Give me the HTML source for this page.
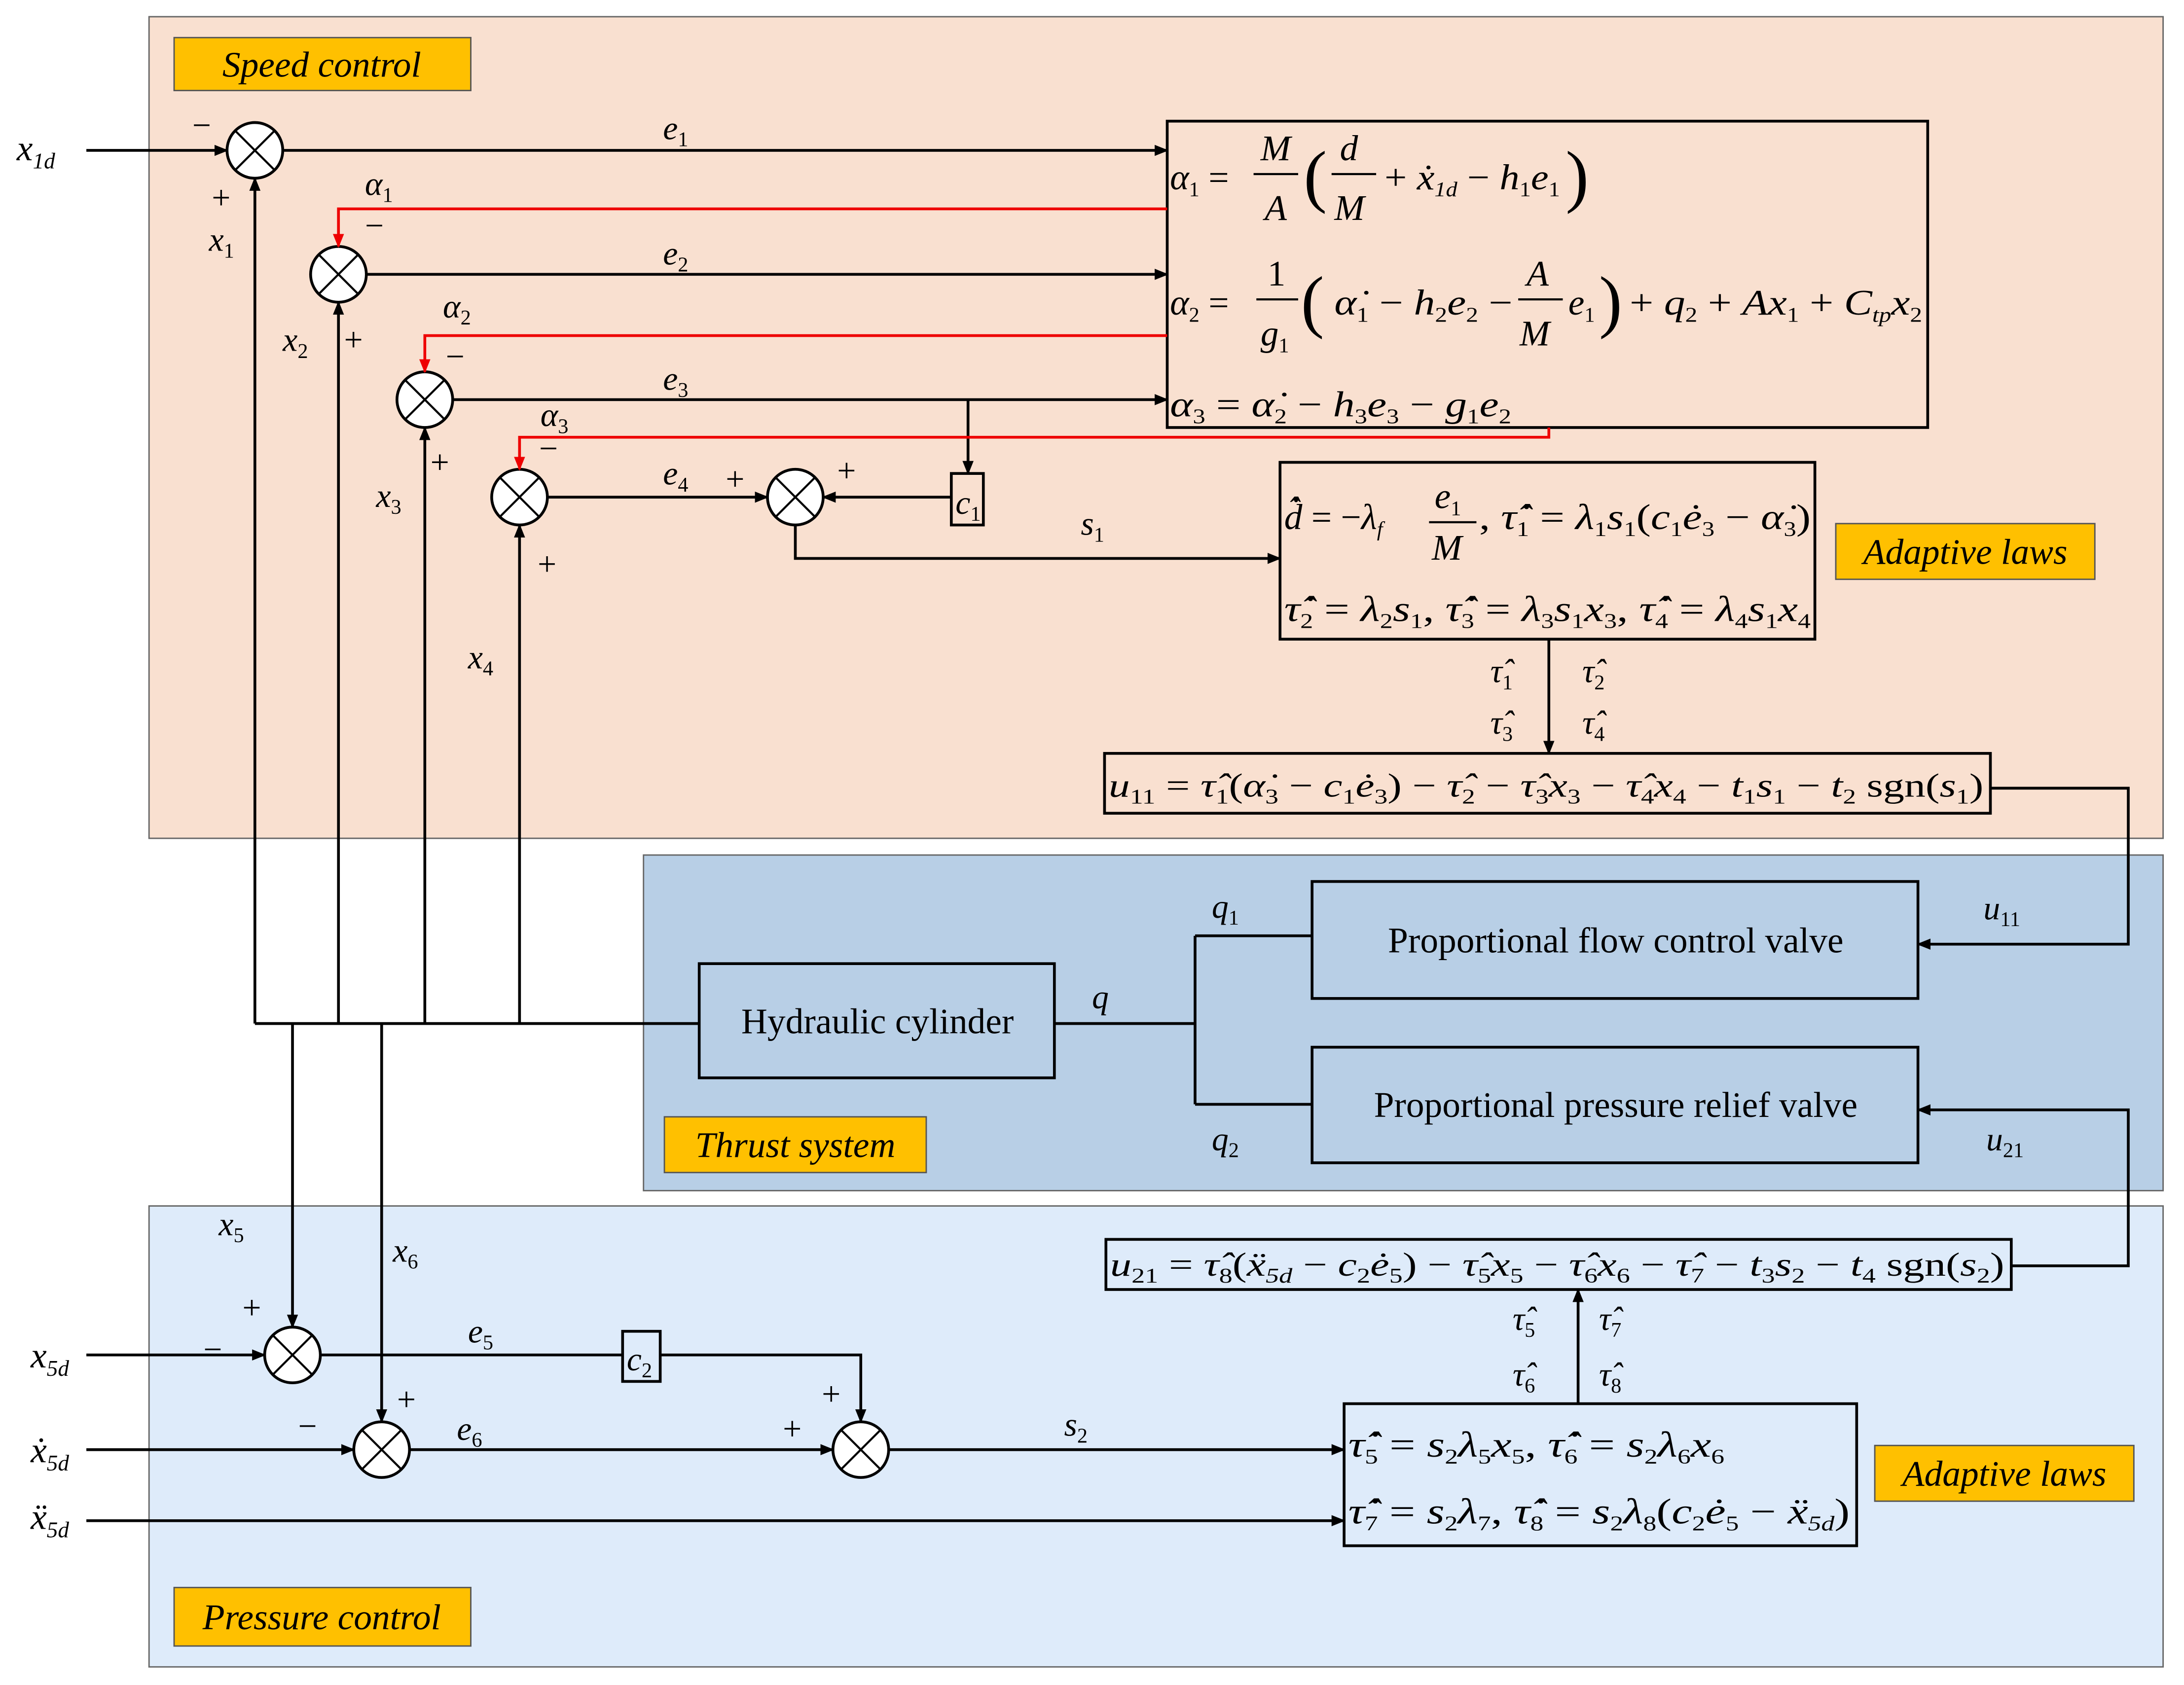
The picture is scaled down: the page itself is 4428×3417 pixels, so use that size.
<!DOCTYPE html>
<html><head><meta charset="utf-8"><style>
html,body{margin:0;padding:0;background:#fff}
svg{display:block}
text{font-family:"Liberation Serif",serif;font-size:24px;fill:#000}
.i{font-style:italic}
.lab{font-style:italic;font-size:26px}
</style></head><body>
<svg width="4428" height="3417" viewBox="0 0 1568 1210" xmlns="http://www.w3.org/2000/svg">
<defs>
<marker id="a" markerWidth="10" markerHeight="8" refX="9" refY="4" orient="auto" markerUnits="userSpaceOnUse"><path d="M0,0L10,4L0,8z" fill="#000"/></marker>
<marker id="r" markerWidth="10" markerHeight="8" refX="9" refY="4" orient="auto" markerUnits="userSpaceOnUse"><path d="M0,0L10,4L0,8z" fill="#e00"/></marker>
</defs>
<rect x="107" y="12" width="1446" height="590" fill="#f9e0d0" stroke="#666" stroke-width="1"/>
<rect x="462" y="614" width="1091" height="241" fill="#b8cfe6" stroke="#666" stroke-width="1"/>
<rect x="107" y="866" width="1446" height="331" fill="#deebfa" stroke="#666" stroke-width="1"/>
<g stroke="#555" stroke-width="1" fill="#ffc000">
<rect x="125" y="27" width="213" height="38"/>
<rect x="1318" y="376" width="186" height="40"/>
<rect x="477" y="802" width="188" height="40"/>
<rect x="1346" y="1038" width="186" height="40"/>
<rect x="125" y="1140" width="213" height="42"/>
</g>
<text class="lab" x="231" y="55" text-anchor="middle">Speed control</text>
<text class="lab" x="1411" y="405" text-anchor="middle">Adaptive laws</text>
<text class="lab" x="571" y="831" text-anchor="middle">Thrust system</text>
<text class="lab" x="1439" y="1067" text-anchor="middle">Adaptive laws</text>
<text class="lab" x="231" y="1170" text-anchor="middle">Pressure control</text>

<g fill="none" stroke="#000" stroke-width="2">
<rect x="838" y="87" width="546" height="220"/>
<rect x="919" y="332" width="384" height="127"/>
<rect x="793" y="541" width="636" height="43"/>
<rect x="502" y="692" width="255" height="82"/>
<rect x="942" y="633" width="435" height="84"/>
<rect x="942" y="752" width="435" height="83"/>
<rect x="794" y="890" width="650" height="36"/>
<rect x="965" y="1008" width="368" height="102"/>
<rect x="683" y="340" width="23" height="37"/>
<rect x="447" y="956" width="27" height="36"/>
</g>
<text x="1160" y="684" text-anchor="middle" style="font-size:26px">Proportional flow control valve</text>
<text x="1160" y="802" text-anchor="middle" style="font-size:26px">Proportional pressure relief valve</text>
<text x="630" y="742" text-anchor="middle" style="font-size:26px">Hydraulic cylinder</text>
<text class="i" x="686" y="369">c<tspan style="font-size:15px;font-style:normal" dy="5">1</tspan></text>
<text class="i" x="450" y="984">c<tspan style="font-size:15px;font-style:normal" dy="5">2</tspan></text>

<g fill="#fff" stroke="#000" stroke-width="2">
<circle cx="183" cy="108" r="20"/><circle cx="243" cy="197" r="20"/><circle cx="305" cy="287" r="20"/>
<circle cx="373" cy="357" r="20"/><circle cx="571" cy="357" r="20"/><circle cx="210" cy="973" r="20"/>
<circle cx="274" cy="1041" r="20"/><circle cx="618" cy="1041" r="20"/>
</g>
<g stroke="#000" stroke-width="1.5">
<path d="M169,94l28,28M197,94l-28,28M229,183l28,28M257,183l-28,28M291,273l28,28M319,273l-28,28M359,343l28,28M387,343l-28,28M557,343l28,28M585,343l-28,28M196,959l28,28M224,959l-28,28M260,1027l28,28M288,1027l-28,28M604,1027l28,28M632,1027l-28,28"/>
</g>

<g fill="none" stroke="#000" stroke-width="2">
<path d="M62,108H163" marker-end="url(#a)"/>
<path d="M203,108H838" marker-end="url(#a)"/>
<path d="M263,197H838" marker-end="url(#a)"/>
<path d="M325,287H838" marker-end="url(#a)"/>
<path d="M695,287V340" marker-end="url(#a)"/>
<path d="M393,357H551" marker-end="url(#a)"/>
<path d="M683,357H591" marker-end="url(#a)"/>
<path d="M571,377V401H919" marker-end="url(#a)"/>
<path d="M1112,459V541" marker-end="url(#a)"/>
<path d="M1429,566H1528V678H1377" marker-end="url(#a)"/>
<path d="M183,735V128" marker-end="url(#a)"/>
<path d="M243,735V217" marker-end="url(#a)"/>
<path d="M305,735V307" marker-end="url(#a)"/>
<path d="M373,735V377" marker-end="url(#a)"/>
<path d="M183,735H502"/>
<path d="M757,735H858M858,672V793M858,672H942M858,793H942"/>
<path d="M210,735V953" marker-end="url(#a)"/>
<path d="M274,735V1021" marker-end="url(#a)"/>
<path d="M62,973H190" marker-end="url(#a)"/>
<path d="M230,973H447M474,973H618V1021" marker-end="url(#a)"/>
<path d="M62,1041H254" marker-end="url(#a)"/>
<path d="M294,1041H598" marker-end="url(#a)"/>
<path d="M638,1041H965" marker-end="url(#a)"/>
<path d="M62,1092H965" marker-end="url(#a)"/>
<path d="M1133,1008V926" marker-end="url(#a)"/>
<path d="M1444,909H1528V797H1377" marker-end="url(#a)"/>
</g>
<g fill="none" stroke="#e00" stroke-width="2">
<path d="M838,150H243V177" marker-end="url(#r)"/>
<path d="M838,241H305V267" marker-end="url(#r)"/>
<path d="M1112,307V314H373V337" marker-end="url(#r)"/>
</g>

<g class="i">
<text x="12" y="115" style="font-size:26px">x<tspan style="font-size:16px" dy="6">1d</tspan></text>
<text x="22" y="982" style="font-size:26px">x<tspan style="font-size:16px" dy="6">5d</tspan></text>
<text x="22" y="1050" style="font-size:26px">ẋ<tspan style="font-size:16px" dy="6">5d</tspan></text>
<text x="22" y="1098" style="font-size:26px">ẍ<tspan style="font-size:16px" dy="6">5d</tspan></text>
<text x="476" y="100">e<tspan style="font-size:15px;font-style:normal" dy="5">1</tspan></text>
<text x="476" y="190">e<tspan style="font-size:15px;font-style:normal" dy="5">2</tspan></text>
<text x="476" y="280">e<tspan style="font-size:15px;font-style:normal" dy="5">3</tspan></text>
<text x="476" y="348">e<tspan style="font-size:15px;font-style:normal" dy="5">4</tspan></text>
<text x="336" y="964">e<tspan style="font-size:15px;font-style:normal" dy="5">5</tspan></text>
<text x="328" y="1034">e<tspan style="font-size:15px;font-style:normal" dy="5">6</tspan></text>
<text x="776" y="384">s<tspan style="font-size:15px;font-style:normal" dy="5">1</tspan></text>
<text x="764" y="1031">s<tspan style="font-size:15px;font-style:normal" dy="5">2</tspan></text>
<text x="262" y="140">α<tspan style="font-size:15px;font-style:normal" dy="5">1</tspan></text>
<text x="318" y="228">α<tspan style="font-size:15px;font-style:normal" dy="5">2</tspan></text>
<text x="388" y="306">α<tspan style="font-size:15px;font-style:normal" dy="5">3</tspan></text>
<text x="150" y="180">x<tspan style="font-size:15px;font-style:normal" dy="5">1</tspan></text>
<text x="203" y="252">x<tspan style="font-size:15px;font-style:normal" dy="5">2</tspan></text>
<text x="270" y="364">x<tspan style="font-size:15px;font-style:normal" dy="5">3</tspan></text>
<text x="336" y="480">x<tspan style="font-size:15px;font-style:normal" dy="5">4</tspan></text>
<text x="157" y="887">x<tspan style="font-size:15px;font-style:normal" dy="5">5</tspan></text>
<text x="282" y="906">x<tspan style="font-size:15px;font-style:normal" dy="5">6</tspan></text>
<text x="784" y="724">q</text>
<text x="870" y="659">q<tspan style="font-size:15px;font-style:normal" dy="5">1</tspan></text>
<text x="870" y="826">q<tspan style="font-size:15px;font-style:normal" dy="5">2</tspan></text>
<text x="1424" y="660">u<tspan style="font-size:15px;font-style:normal" dy="5">11</tspan></text>
<text x="1426" y="826">u<tspan style="font-size:15px;font-style:normal" dy="5">21</tspan></text>
<text x="1070" y="490">τ̂<tspan style="font-size:15px;font-style:normal" dy="5">1</tspan></text>
<text x="1070" y="527">τ̂<tspan style="font-size:15px;font-style:normal" dy="5">3</tspan></text>
<text x="1136" y="490">τ̂<tspan style="font-size:15px;font-style:normal" dy="5">2</tspan></text>
<text x="1136" y="527">τ̂<tspan style="font-size:15px;font-style:normal" dy="5">4</tspan></text>
<text x="1086" y="955">τ̂<tspan style="font-size:15px;font-style:normal" dy="5">5</tspan></text>
<text x="1086" y="995">τ̂<tspan style="font-size:15px;font-style:normal" dy="5">6</tspan></text>
<text x="1148" y="955">τ̂<tspan style="font-size:15px;font-style:normal" dy="5">7</tspan></text>
<text x="1148" y="995">τ̂<tspan style="font-size:15px;font-style:normal" dy="5">8</tspan></text>
</g>
<g style="font-size:24px">
<text x="138" y="98">−</text><text x="152" y="150">+</text>
<text x="262" y="170">−</text><text x="247" y="252">+</text>
<text x="320" y="264">−</text><text x="309" y="340">+</text>
<text x="387" y="330">−</text><text x="386" y="413">+</text>
<text x="521" y="352">+</text><text x="601" y="346">+</text>
<text x="174" y="947">+</text><text x="146" y="977">−</text>
<text x="285" y="1013">+</text><text x="214" y="1032">−</text>
<text x="590" y="1009">+</text><text x="562" y="1034">+</text>
</g>

<g style="font-size:26px">
<text x="840" y="136" style="font-size:26px"><tspan class="i">α</tspan><tspan style="font-size:15px" dy="5">1</tspan><tspan dy="-5"> =</tspan></text>
<text class="i" x="905" y="115" style="font-size:26px">M</text><line x1="900" y1="125" x2="932" y2="125" stroke="#000" stroke-width="1.5"/><text class="i" x="908" y="158" style="font-size:26px">A</text>
<text x="936" y="143" style="font-size:50px">(</text>
<text class="i" x="962" y="115" style="font-size:26px">d</text><line x1="956" y1="125" x2="988" y2="125" stroke="#000" stroke-width="1.5"/><text class="i" x="958" y="158" style="font-size:26px">M</text>
<text x="994" y="136" style="font-size:26px" textLength="126" lengthAdjust="spacingAndGlyphs">+ <tspan class="i">ẋ</tspan><tspan class="i" style="font-size:15px" dy="5">1d</tspan><tspan dy="-5"> − </tspan><tspan class="i">h</tspan><tspan style="font-size:15px" dy="5">1</tspan><tspan class="i" dy="-5">e</tspan><tspan style="font-size:15px" dy="5">1</tspan></text>
<text x="1124" y="143" style="font-size:50px">)</text>

<text x="840" y="226" style="font-size:26px"><tspan class="i">α</tspan><tspan style="font-size:15px" dy="5">2</tspan><tspan dy="-5"> =</tspan></text>
<text x="910" y="205" style="font-size:26px">1</text><line x1="902" y1="215" x2="932" y2="215" stroke="#000" stroke-width="1.5"/><text class="i" x="905" y="248" style="font-size:26px">g<tspan style="font-size:15px;font-style:normal" dy="5">1</tspan></text>
<text x="934" y="233" style="font-size:50px">(</text>
<text x="958" y="226" style="font-size:26px" textLength="128" lengthAdjust="spacingAndGlyphs"><tspan class="i">α̇</tspan><tspan style="font-size:15px" dy="5">1</tspan><tspan dy="-5"> − </tspan><tspan class="i">h</tspan><tspan style="font-size:15px" dy="5">2</tspan><tspan class="i" dy="-5">e</tspan><tspan style="font-size:15px" dy="5">2</tspan><tspan dy="-5"> −</tspan></text>
<text class="i" x="1096" y="205" style="font-size:26px">A</text><line x1="1090" y1="215" x2="1122" y2="215" stroke="#000" stroke-width="1.5"/><text class="i" x="1091" y="248" style="font-size:26px">M</text>
<text class="i" x="1126" y="226" style="font-size:26px">e<tspan style="font-size:15px;font-style:normal" dy="5">1</tspan></text>
<text x="1148" y="233" style="font-size:50px">)</text>
<text x="1170" y="226" style="font-size:26px" textLength="210" lengthAdjust="spacingAndGlyphs">+ <tspan class="i">q</tspan><tspan style="font-size:15px" dy="5">2</tspan><tspan dy="-5"> + </tspan><tspan class="i">Ax</tspan><tspan style="font-size:15px" dy="5">1</tspan><tspan dy="-5"> + </tspan><tspan class="i">C</tspan><tspan class="i" style="font-size:15px" dy="5">tp</tspan><tspan class="i" dy="-5">x</tspan><tspan style="font-size:15px" dy="5">2</tspan></text>

<text x="840" y="299" style="font-size:26px" textLength="245" lengthAdjust="spacingAndGlyphs"><tspan class="i">α</tspan><tspan style="font-size:15px" dy="5">3</tspan><tspan dy="-5"> = </tspan><tspan class="i">α̇</tspan><tspan style="font-size:15px" dy="5">2</tspan><tspan dy="-5"> − </tspan><tspan class="i">h</tspan><tspan style="font-size:15px" dy="5">3</tspan><tspan class="i" dy="-5">e</tspan><tspan style="font-size:15px" dy="5">3</tspan><tspan dy="-5"> − </tspan><tspan class="i">g</tspan><tspan style="font-size:15px" dy="5">1</tspan><tspan class="i" dy="-5">e</tspan><tspan style="font-size:15px" dy="5">2</tspan></text>

<text x="922" y="380" style="font-size:26px"><tspan class="i">d̂̇</tspan> = −<tspan class="i">λ</tspan><tspan class="i" style="font-size:15px" dy="5">f</tspan></text>
<text class="i" x="1030" y="365" style="font-size:26px">e<tspan style="font-size:15px;font-style:normal" dy="5">1</tspan></text><line x1="1026" y1="375" x2="1060" y2="375" stroke="#000" stroke-width="1.5"/><text class="i" x="1028" y="402" style="font-size:26px">M</text>
<text x="1062" y="380" style="font-size:26px" textLength="238" lengthAdjust="spacingAndGlyphs">, <tspan class="i">τ̂̇</tspan><tspan style="font-size:15px" dy="5">1</tspan><tspan dy="-5"> = </tspan><tspan class="i">λ</tspan><tspan style="font-size:15px" dy="5">1</tspan><tspan class="i" dy="-5">s</tspan><tspan style="font-size:15px" dy="5">1</tspan><tspan dy="-5">(</tspan><tspan class="i">c</tspan><tspan style="font-size:15px" dy="5">1</tspan><tspan class="i" dy="-5">ė</tspan><tspan style="font-size:15px" dy="5">3</tspan><tspan dy="-5"> − </tspan><tspan class="i">α̇</tspan><tspan style="font-size:15px" dy="5">3</tspan><tspan dy="-5">)</tspan></text>
<text x="922" y="446" style="font-size:26px" textLength="378" lengthAdjust="spacingAndGlyphs"><tspan class="i">τ̂̇</tspan><tspan style="font-size:15px" dy="5">2</tspan><tspan dy="-5"> = </tspan><tspan class="i">λ</tspan><tspan style="font-size:15px" dy="5">2</tspan><tspan class="i" dy="-5">s</tspan><tspan style="font-size:15px" dy="5">1</tspan><tspan dy="-5">, </tspan><tspan class="i">τ̂̇</tspan><tspan style="font-size:15px" dy="5">3</tspan><tspan dy="-5"> = </tspan><tspan class="i">λ</tspan><tspan style="font-size:15px" dy="5">3</tspan><tspan class="i" dy="-5">s</tspan><tspan style="font-size:15px" dy="5">1</tspan><tspan class="i" dy="-5">x</tspan><tspan style="font-size:15px" dy="5">3</tspan><tspan dy="-5">, </tspan><tspan class="i">τ̂̇</tspan><tspan style="font-size:15px" dy="5">4</tspan><tspan dy="-5"> = </tspan><tspan class="i">λ</tspan><tspan style="font-size:15px" dy="5">4</tspan><tspan class="i" dy="-5">s</tspan><tspan style="font-size:15px" dy="5">1</tspan><tspan class="i" dy="-5">x</tspan><tspan style="font-size:15px" dy="5">4</tspan></text>

<text x="796" y="572" textLength="628" lengthAdjust="spacingAndGlyphs"><tspan class="i">u</tspan><tspan style="font-size:15px" dy="5">11</tspan><tspan dy="-5"> = </tspan><tspan class="i">τ̂</tspan><tspan style="font-size:15px" dy="5">1</tspan><tspan dy="-5">(</tspan><tspan class="i">α̇</tspan><tspan style="font-size:15px" dy="5">3</tspan><tspan dy="-5"> − </tspan><tspan class="i">c</tspan><tspan style="font-size:15px" dy="5">1</tspan><tspan class="i" dy="-5">ė</tspan><tspan style="font-size:15px" dy="5">3</tspan><tspan dy="-5">) − </tspan><tspan class="i">τ̂</tspan><tspan style="font-size:15px" dy="5">2</tspan><tspan dy="-5"> − </tspan><tspan class="i">τ̂</tspan><tspan style="font-size:15px" dy="5">3</tspan><tspan class="i" dy="-5">x</tspan><tspan style="font-size:15px" dy="5">3</tspan><tspan dy="-5"> − </tspan><tspan class="i">τ̂</tspan><tspan style="font-size:15px" dy="5">4</tspan><tspan class="i" dy="-5">x</tspan><tspan style="font-size:15px" dy="5">4</tspan><tspan dy="-5"> − </tspan><tspan class="i">t</tspan><tspan style="font-size:15px" dy="5">1</tspan><tspan class="i" dy="-5">s</tspan><tspan style="font-size:15px" dy="5">1</tspan><tspan dy="-5"> − </tspan><tspan class="i">t</tspan><tspan style="font-size:15px" dy="5">2</tspan><tspan dy="-5"> sgn(</tspan><tspan class="i">s</tspan><tspan style="font-size:15px" dy="5">1</tspan><tspan dy="-5">)</tspan></text>

<text x="797" y="916" textLength="642" lengthAdjust="spacingAndGlyphs"><tspan class="i">u</tspan><tspan style="font-size:15px" dy="5">21</tspan><tspan dy="-5"> = </tspan><tspan class="i">τ̂</tspan><tspan style="font-size:15px" dy="5">8</tspan><tspan dy="-5">(</tspan><tspan class="i">ẍ</tspan><tspan class="i" style="font-size:15px" dy="5">5d</tspan><tspan dy="-5"> − </tspan><tspan class="i">c</tspan><tspan style="font-size:15px" dy="5">2</tspan><tspan class="i" dy="-5">ė</tspan><tspan style="font-size:15px" dy="5">5</tspan><tspan dy="-5">) − </tspan><tspan class="i">τ̂</tspan><tspan style="font-size:15px" dy="5">5</tspan><tspan class="i" dy="-5">x</tspan><tspan style="font-size:15px" dy="5">5</tspan><tspan dy="-5"> − </tspan><tspan class="i">τ̂</tspan><tspan style="font-size:15px" dy="5">6</tspan><tspan class="i" dy="-5">x</tspan><tspan style="font-size:15px" dy="5">6</tspan><tspan dy="-5"> − </tspan><tspan class="i">τ̂</tspan><tspan style="font-size:15px" dy="5">7</tspan><tspan dy="-5"> − </tspan><tspan class="i">t</tspan><tspan style="font-size:15px" dy="5">3</tspan><tspan class="i" dy="-5">s</tspan><tspan style="font-size:15px" dy="5">2</tspan><tspan dy="-5"> − </tspan><tspan class="i">t</tspan><tspan style="font-size:15px" dy="5">4</tspan><tspan dy="-5"> sgn(</tspan><tspan class="i">s</tspan><tspan style="font-size:15px" dy="5">2</tspan><tspan dy="-5">)</tspan></text>

<text x="968" y="1046" style="font-size:26px" textLength="270" lengthAdjust="spacingAndGlyphs"><tspan class="i">τ̂̇</tspan><tspan style="font-size:15px" dy="5">5</tspan><tspan dy="-5"> = </tspan><tspan class="i">s</tspan><tspan style="font-size:15px" dy="5">2</tspan><tspan class="i" dy="-5">λ</tspan><tspan style="font-size:15px" dy="5">5</tspan><tspan class="i" dy="-5">x</tspan><tspan style="font-size:15px" dy="5">5</tspan><tspan dy="-5">, </tspan><tspan class="i">τ̂̇</tspan><tspan style="font-size:15px" dy="5">6</tspan><tspan dy="-5"> = </tspan><tspan class="i">s</tspan><tspan style="font-size:15px" dy="5">2</tspan><tspan class="i" dy="-5">λ</tspan><tspan style="font-size:15px" dy="5">6</tspan><tspan class="i" dy="-5">x</tspan><tspan style="font-size:15px" dy="5">6</tspan></text>
<text x="968" y="1094" style="font-size:26px" textLength="360" lengthAdjust="spacingAndGlyphs"><tspan class="i">τ̂̇</tspan><tspan style="font-size:15px" dy="5">7</tspan><tspan dy="-5"> = </tspan><tspan class="i">s</tspan><tspan style="font-size:15px" dy="5">2</tspan><tspan class="i" dy="-5">λ</tspan><tspan style="font-size:15px" dy="5">7</tspan><tspan dy="-5">, </tspan><tspan class="i">τ̂̇</tspan><tspan style="font-size:15px" dy="5">8</tspan><tspan dy="-5"> = </tspan><tspan class="i">s</tspan><tspan style="font-size:15px" dy="5">2</tspan><tspan class="i" dy="-5">λ</tspan><tspan style="font-size:15px" dy="5">8</tspan><tspan dy="-5">(</tspan><tspan class="i">c</tspan><tspan style="font-size:15px" dy="5">2</tspan><tspan class="i" dy="-5">ė</tspan><tspan style="font-size:15px" dy="5">5</tspan><tspan dy="-5"> − </tspan><tspan class="i">ẍ</tspan><tspan class="i" style="font-size:15px" dy="5">5d</tspan><tspan dy="-5">)</tspan></text>
</g>
</svg>
</body></html>
